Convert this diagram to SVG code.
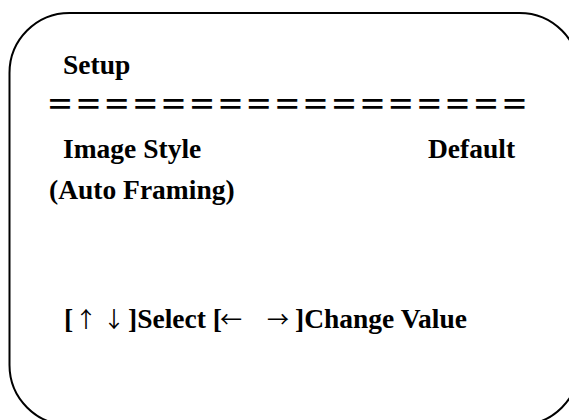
<svg xmlns="http://www.w3.org/2000/svg" width="569" height="420" viewBox="0 0 569 420">
<style>
.t{font-family:"Liberation Serif","Times New Roman",serif;font-weight:bold;font-size:27.5px;fill:#000}
.eq{font-family:"Noto Sans CJK SC","Noto Sans",sans-serif;font-size:28px;font-weight:bold;fill:#000;letter-spacing:0.4px}
.ar{font-family:"Noto Sans CJK SC","DejaVu Sans",sans-serif;font-weight:normal;font-size:22px}
.frame{fill:#fff;stroke:#000;stroke-width:2}
</style>
<rect width="569" height="420" fill="#fff"/>
<g id="menu-frame">
<rect class="frame" x="9.5" y="13" width="570" height="412" rx="60" ry="60"/>
</g>
<g id="title">
<text class="t" x="63" y="74">Setup</text>
</g>
<g id="separator">
<text class="eq" x="46" y="115">＝＝＝＝＝＝＝＝＝＝＝＝＝＝＝＝＝</text>
</g>
<g id="image-style">
<text class="t" x="63" y="158">Image Style</text>
<text class="t" x="428" y="158">Default</text>
<text class="t" x="49" y="199">(Auto Framing)</text>
</g>
<g id="help">
<text class="t" y="328"><tspan x="64">[</tspan><tspan class="ar" x="75" y="327">↑</tspan><tspan class="ar" x="103" y="327">↓</tspan><tspan x="128" y="328">]Select [</tspan><tspan class="ar" x="220" y="327">←</tspan><tspan class="ar" x="267" y="327">→</tspan><tspan x="295" y="328">]Change Value</tspan></text>
</g>
</svg>
